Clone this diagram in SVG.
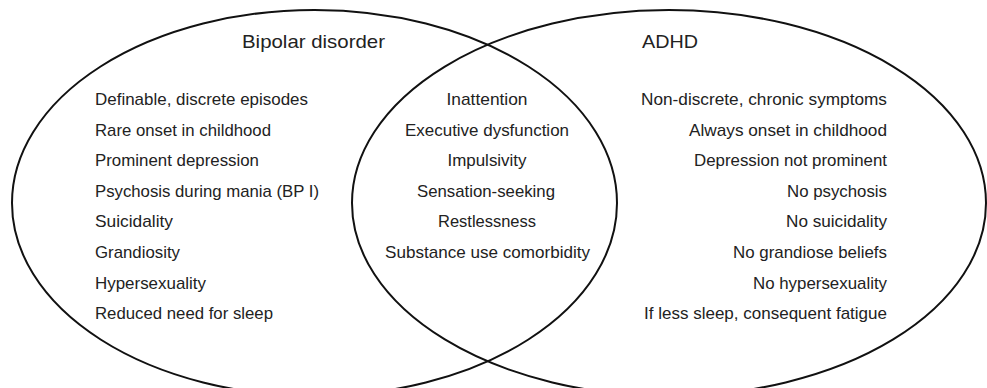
<svg xmlns="http://www.w3.org/2000/svg" width="987" height="388" viewBox="0 0 987 388">
<style>
.bg{fill:#ffffff}
.ell{fill:none;stroke:#111;stroke-width:2}
.title{font-family:"Liberation Sans",Arial,sans-serif;font-size:19px;fill:#222}
.item{font-family:"Liberation Sans Narrow","Liberation Sans",Arial,sans-serif;font-size:17px;fill:#222}
.l{text-anchor:start}
.m{text-anchor:middle}
.r{text-anchor:end}
</style>
<rect class="bg" x="0" y="0" width="987" height="388"/>
<g id="connectors"></g>
<g id="bipolar">
<ellipse class="ell" cx="314.5" cy="203" rx="302.5" ry="193"/>
<text class="title l" x="242" y="48" textLength="143" lengthAdjust="spacingAndGlyphs">Bipolar disorder</text>
<text class="item l" x="95" y="105" textLength="213" lengthAdjust="spacingAndGlyphs">Definable, discrete episodes</text>
<text class="item l" x="95" y="135.6" textLength="176" lengthAdjust="spacingAndGlyphs">Rare onset in childhood</text>
<text class="item l" x="95" y="166.2" textLength="164" lengthAdjust="spacingAndGlyphs">Prominent depression</text>
<text class="item l" x="95" y="196.8" textLength="224" lengthAdjust="spacingAndGlyphs">Psychosis during mania (BP I)</text>
<text class="item l" x="95" y="227.4" textLength="78" lengthAdjust="spacingAndGlyphs">Suicidality</text>
<text class="item l" x="95" y="258" textLength="85" lengthAdjust="spacingAndGlyphs">Grandiosity</text>
<text class="item l" x="95" y="288.6" textLength="111" lengthAdjust="spacingAndGlyphs">Hypersexuality</text>
<text class="item l" x="95" y="319.2" textLength="178" lengthAdjust="spacingAndGlyphs">Reduced need for sleep</text>
</g>
<g id="adhd">
<ellipse class="ell" cx="669" cy="203" rx="317" ry="193"/>
<text class="title l" x="642" y="48" textLength="56" lengthAdjust="spacingAndGlyphs">ADHD</text>
<text class="item r" x="887" y="105" textLength="246" lengthAdjust="spacingAndGlyphs">Non-discrete, chronic symptoms</text>
<text class="item r" x="887" y="135.6" textLength="198" lengthAdjust="spacingAndGlyphs">Always onset in childhood</text>
<text class="item r" x="887" y="166.2" textLength="193" lengthAdjust="spacingAndGlyphs">Depression not prominent</text>
<text class="item r" x="887" y="196.8" textLength="100" lengthAdjust="spacingAndGlyphs">No psychosis</text>
<text class="item r" x="887" y="227.4" textLength="101" lengthAdjust="spacingAndGlyphs">No suicidality</text>
<text class="item r" x="887" y="258" textLength="154" lengthAdjust="spacingAndGlyphs">No grandiose beliefs</text>
<text class="item r" x="887" y="288.6" textLength="134" lengthAdjust="spacingAndGlyphs">No hypersexuality</text>
<text class="item r" x="887" y="319.2" textLength="243" lengthAdjust="spacingAndGlyphs">If less sleep, consequent fatigue</text>
</g>
<g id="overlap">
<text class="item m" x="487" y="105" textLength="81" lengthAdjust="spacingAndGlyphs">Inattention</text>
<text class="item m" x="487" y="135.6" textLength="164" lengthAdjust="spacingAndGlyphs">Executive dysfunction</text>
<text class="item m" x="487" y="166.2" textLength="79" lengthAdjust="spacingAndGlyphs">Impulsivity</text>
<text class="item m" x="486" y="196.8" textLength="138" lengthAdjust="spacingAndGlyphs">Sensation-seeking</text>
<text class="item m" x="487" y="227.4" textLength="98" lengthAdjust="spacingAndGlyphs">Restlessness</text>
<text class="item m" x="487.5" y="258" textLength="205" lengthAdjust="spacingAndGlyphs">Substance use comorbidity</text>
</g>
</svg>
